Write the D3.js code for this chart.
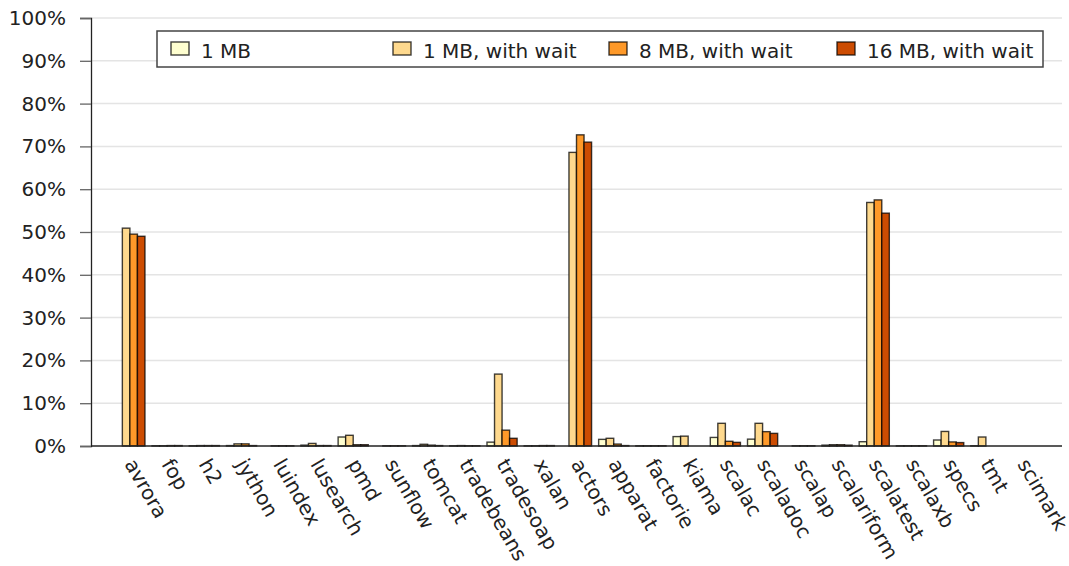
<!DOCTYPE html>
<html>
<head>
<meta charset="utf-8">
<script src="https://cdn.jsdelivr.net/npm/d3@7"></script>
<style>
  body { margin: 0; background: #fff; }
  text { font-family: "DejaVu Sans", sans-serif; }
</style>
</head>
<body>
<div id="chart"></div>
<script>
// benchmarks, left to right
const benchmarks = ["avrora", "fop", "h2", "jython", "luindex", "lusearch", "pmd", "sunflow", "tomcat",
  "tradebeans", "tradesoap", "xalan", "actors", "apparat", "factorie", "kiama", "scalac", "scaladoc",
  "scalap", "scalariform", "scalatest", "scalaxb", "specs", "tmt", "scimark"];

// values in percent
const mb1      = [0, 0.05, 0.05, 0.1, 0, 0.2, 2.1, 0, 0.1, 0.05, 0.9, 0.05, 0, 1.55, 0.05, 2.2, 2.0, 1.6, 0, 0.2, 1.0, 0.05, 1.4, 0.05, 0];
const mb1Wait  = [50.9, 0.05, 0.1, 0.5, 0.05, 0.6, 2.5, 0.05, 0.4, 0.1, 16.8, 0.05, 68.6, 1.8, 0.05, 2.3, 5.3, 5.3, 0.05, 0.3, 56.9, 0.05, 3.4, 2.1, 0];
const mb8Wait  = [49.5, 0.1, 0.1, 0.5, 0.05, 0.1, 0.3, 0.05, 0.2, 0.05, 3.7, 0.1, 72.7, 0.45, 0.05, 0, 1.1, 3.35, 0.05, 0.3, 57.5, 0.05, 0.95, 0, 0];
const mb16Wait = [49.0, 0.1, 0.1, 0.1, 0.05, 0.1, 0.3, 0.05, 0.1, 0.05, 1.8, 0.1, 71.0, 0.1, 0.05, 0, 0.85, 2.95, 0.05, 0.2, 54.4, 0.05, 0.8, 0, 0];

const seriesNames = ["1 MB", "1 MB, with wait", "8 MB, with wait", "16 MB, with wait"];
const seriesColors = ["#ffffd0", "#fed98e", "#fe9929", "#cc4c02"];
const yTicks = [0, 10, 20, 30, 40, 50, 60, 70, 80, 90, 100];

const series = [mb1, mb1Wait, mb8Wait, mb16Wait];

const width = 1069, height = 566;
const plot = {left: 91, right: 1062, top: 18, bottom: 446};
const fontSize = 20;

const svg = d3.select("#chart").append("svg")
    .attr("width", width)
    .attr("height", height);

const y = d3.scaleLinear().domain([0, 100]).range([plot.bottom, plot.top]);
const group = d3.scaleBand().domain(benchmarks).range([plot.left, plot.right])
    .paddingInner(0.19).paddingOuter(0.64);
const x = d3.scaleBand().domain(d3.range(series.length)).range([0, group.bandwidth()]);

// grid
svg.append("g")
  .selectAll("line")
  .data(yTicks.filter(d => d > 0))
  .join("line")
    .attr("x1", plot.left).attr("x2", plot.right)
    .attr("y1", d => y(d)).attr("y2", d => y(d))
    .attr("stroke", "#e4e4e4")
    .attr("stroke-width", 1.5);

// bars
const rows = benchmarks.map((b, i) => ({name: b, values: series.map((s, k) => ({k, v: s[i]}))}));

const groups = svg.append("g")
  .selectAll("g")
  .data(rows)
  .join("g")
    .attr("transform", d => `translate(${group(d.name)},0)`);

groups.selectAll("rect")
  .data(d => d.values.filter(e => e.v > 0))
  .join("rect")
    .attr("x", d => x(d.k))
    .attr("width", x.bandwidth())
    .attr("y", d => y(d.v))
    .attr("height", d => plot.bottom - y(d.v))
    .attr("fill", d => seriesColors[d.k])
    .attr("stroke", "rgba(0,0,0,0.75)")
    .attr("stroke-width", 1.4);

// y axis
const yAxis = svg.append("g")
    .attr("transform", `translate(${plot.left},0)`)
    .call(d3.axisLeft(y).tickValues(yTicks).tickFormat(d => d + "%").tickSize(11).tickPadding(14));
yAxis.select(".domain").attr("stroke", "#222").attr("stroke-width", 1.3);
yAxis.selectAll(".tick line").attr("stroke", "#666").attr("stroke-width", 1.3);
yAxis.selectAll(".tick text")
    .attr("font-family", "DejaVu Sans")
    .attr("font-size", fontSize)
    .attr("fill", "#222");

// x axis
svg.append("line")
    .attr("x1", plot.left).attr("x2", plot.right)
    .attr("y1", plot.bottom).attr("y2", plot.bottom)
    .attr("stroke", "#222")
    .attr("stroke-width", 1.3);

svg.append("g")
  .selectAll("text")
  .data(benchmarks)
  .join("text")
    .attr("transform", d => `translate(${group(d) + group.bandwidth() / 2 - 6},${plot.bottom + 18}) rotate(60)`)
    .attr("text-anchor", "start")
    .attr("font-size", fontSize)
    .attr("fill", "#222")
    .text(d => d);

// legend
const legend = svg.append("g");
legend.append("rect")
    .attr("x", 157).attr("y", 31)
    .attr("width", 886).attr("height", 36)
    .attr("fill", "#fff")
    .attr("stroke", "#444")
    .attr("stroke-width", 1.5);

const legendX = [171, 393, 609, 837];
const items = legend.selectAll("g")
  .data(seriesNames)
  .join("g")
    .attr("transform", (d, i) => `translate(${legendX[i]},42)`);

items.append("rect")
    .attr("width", 18).attr("height", 13)
    .attr("fill", (d, i) => seriesColors[i])
    .attr("stroke", "rgba(0,0,0,0.75)")
    .attr("stroke-width", 1.4);

items.append("text")
    .attr("x", 30)
    .attr("y", 16)
    .attr("font-size", fontSize)
    .attr("fill", "#222")
    .text(d => d);
</script>
</body>
</html>
